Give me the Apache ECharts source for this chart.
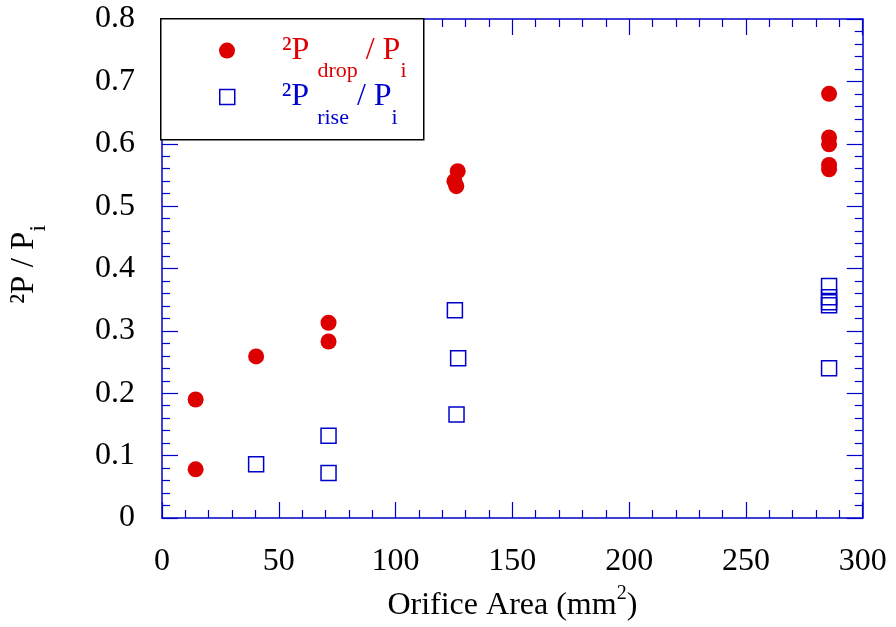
<!DOCTYPE html>
<html>
<head>
<meta charset="utf-8">
<script src="https://cdn.jsdelivr.net/npm/echarts@6/dist/echarts.min.js"></script>
<style>
html,body{margin:0;padding:0;background:#fff;}
#c{width:896px;height:627px;}
</style>
</head>
<body>
<div id="c"></div>
<script>
// ---- data ----
var dropX = [14.4, 14.4, 40.3, 71.3, 71.3, 125.2, 126.6, 126.0, 285.6, 285.6, 285.6, 285.6, 285.6];
var dropY = [0.190, 0.078, 0.259, 0.313, 0.283, 0.540, 0.556, 0.532, 0.680, 0.610, 0.599, 0.566, 0.559];
var riseX = [40.3, 71.3, 71.3, 125.4, 126.8, 126.1, 285.6, 285.6, 285.6, 285.6, 285.6];
var riseY = [0.086, 0.132, 0.072, 0.333, 0.256, 0.166, 0.372, 0.354, 0.346, 0.341, 0.240];
var xTickLabels = ['0', '50', '100', '150', '200', '250', '300'];
var yTickLabels = ['0', '0.1', '0.2', '0.3', '0.4', '0.5', '0.6', '0.7', '0.8'];
var dropName = '²P drop / Pi';
var riseName = '²P rise / Pi';

function zip(xs, ys) { return xs.map(function (x, i) { return [x, ys[i]]; }); }

var RED = '#dd0000', BLUE = '#0000cc', FONT = 'Liberation Serif';
var axisLineStyle = { color: BLUE, width: 1.5 };

function makeX(pos, show) {
  return {
    type: 'value', position: pos, min: 0, max: 300, interval: 50,
    axisLine: { show: true, onZero: false, lineStyle: axisLineStyle },
    axisTick: { show: true, inside: true, length: 16, lineStyle: { color: BLUE, width: 1.2 } },
    minorTick: { show: true, splitNumber: 5, length: 8, lineStyle: { color: BLUE, width: 1.2 } },
    splitLine: { show: false }, minorSplitLine: { show: false },
    axisLabel: {
      show: show, margin: 28, color: '#000', fontFamily: FONT, fontSize: 32,
      formatter: function (v) { return xTickLabels[Math.round(v / 50)]; }
    }
  };
}
function makeY(pos, show) {
  return {
    type: 'value', position: pos, min: 0, max: 0.8, interval: 0.1,
    axisLine: { show: true, onZero: false, lineStyle: axisLineStyle },
    axisTick: { show: true, inside: true, length: 16, lineStyle: { color: BLUE, width: 1.2 } },
    minorTick: { show: true, splitNumber: 5, length: 8, lineStyle: { color: BLUE, width: 1.2 } },
    splitLine: { show: false }, minorSplitLine: { show: false },
    axisLabel: {
      show: show, margin: 27, color: '#000', fontFamily: FONT, fontSize: 32,
      formatter: function (v) { return yTickLabels[Math.round(v * 10)]; }
    }
  };
}

var xBottom = makeX('bottom', true);
xBottom.name = '{t|Orifice Area (mm}{p|2}{t|)}';
xBottom.nameLocation = 'middle';
xBottom.nameGap = 66;
xBottom.nameTextStyle = {
  rich: {
    t: { fontFamily: FONT, fontSize: 32, color: '#000' },
    p: { fontFamily: FONT, fontSize: 20, color: '#000', padding: [0, 0, 24, 0] }
  }
};
var yLeft = makeY('left', true);
yLeft.name = '{a|²P / P}{s|i}';
yLeft.nameLocation = 'middle';
yLeft.nameRotate = 90;
yLeft.nameGap = 112;
yLeft.nameTextStyle = {
  rich: {
    a: { fontFamily: FONT, fontSize: 33, color: '#000', padding: [0, 0, 0, 8] },
    s: { fontFamily: FONT, fontSize: 23, color: '#000', padding: [28, 0, 0, 0] }
  }
};

function legendRich(color) {
  return {
    a0: { fontFamily: FONT, fontSize: 32, color: color, padding: [0, 0, 0, 42] },
    a: { fontFamily: FONT, fontSize: 32, color: color },
    s: { fontFamily: FONT, fontSize: 22, color: color, padding: [42, 0, 0, 0] }
  };
}

var option = {
  animation: false,
  backgroundColor: '#fff',
  grid: { left: 160.7, right: 33.3, top: 19, bottom: 107.2, containLabel: false },
  xAxis: [xBottom, makeX('top', false)],
  yAxis: [yLeft, makeY('right', false)],
  graphic: [{
    type: 'rect', z: 10, left: 160, top: 18,
    shape: { width: 263, height: 121 },
    style: { fill: '#fff', stroke: '#000', lineWidth: 1.5 }
  }],
  legend: [
    {
      z: 20, left: 219, top: 34.6, padding: 0, orient: 'vertical',
      itemWidth: 16, itemHeight: 16,
      data: [{ name: dropName, icon: 'circle' }],
      formatter: function () { return '{a0|²P }{s|drop}{a| / P}{s|i}'; },
      textStyle: { rich: legendRich(RED) }
    },
    {
      z: 20, left: 219, top: 81, padding: 0, orient: 'vertical',
      itemWidth: 15, itemHeight: 15,
      data: [{ name: riseName, icon: 'rect', itemStyle: { color: 'transparent', borderColor: BLUE, borderWidth: 1.5 } }],
      formatter: function () { return '{a0|²P }{s|rise}{a| / P}{s|i}'; },
      textStyle: { rich: legendRich(BLUE) }
    }
  ],
  series: [
    {
      name: dropName, type: 'scatter', symbol: 'circle', symbolSize: 16,
      itemStyle: { color: RED, opacity: 1 },
      data: zip(dropX, dropY)
    },
    {
      name: riseName, type: 'scatter', symbol: 'rect', symbolSize: 15,
      itemStyle: { color: 'transparent', borderColor: BLUE, borderWidth: 1.5, opacity: 1 },
      data: zip(riseX, riseY)
    }
  ]
};
var chart = echarts.init(document.getElementById('c'), null, { renderer: 'canvas' });
chart.setOption(option);
</script>
</body>
</html>
